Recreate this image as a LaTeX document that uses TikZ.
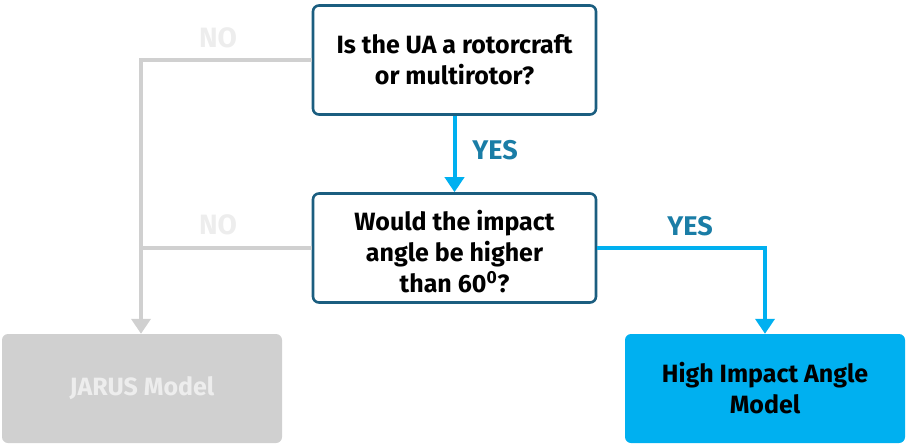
\documentclass[tikz,border=0pt]{standalone}
\usepackage{fontspec}
\setmainfont{Fira Sans}
\usetikzlibrary{arrows.meta}
\definecolor{dblue}{HTML}{1B5E80}
\definecolor{cyanb}{HTML}{00B0F0}
\definecolor{yesc}{HTML}{1A7DA6}
\definecolor{greyb}{HTML}{D0D0D0}
\definecolor{noc}{HTML}{EDEDED}
\begin{document}
\begin{tikzpicture}[x=1pt,y=-1pt,
  qbox/.style={draw=dblue,line width=2.6pt,rounded corners=6pt,fill=white,minimum width=283pt,minimum height=109pt,align=center,font=\fontsize{25}{31}\selectfont\bfseries,inner sep=0pt},
  qtext/.style={align=center,font=\fontsize{25}{31}\selectfont\bfseries,inner sep=0pt},
  mbox/.style={rounded corners=6pt,minimum width=280pt,minimum height=109pt,align=center,font=\fontsize{25}{31}\selectfont\bfseries,inner sep=0pt},
  yesarr/.style={draw=cyanb,line width=4pt,-{Triangle[length=15pt,width=19pt]}},
  noarr/.style={draw=greyb,line width=4.5pt,-{Triangle[length=15pt,width=19pt]}},
  noline/.style={draw=greyb,line width=4.5pt},
  yeslab/.style={text=yesc,font=\fontsize{27}{27}\selectfont\bfseries},
  nolab/.style={text=noc,font=\fontsize{28}{28}\selectfont\bfseries}]
\useasboundingbox (0,0) rectangle (907,447);
\node[qbox] (q1) at (454.5,60) {Is the UA a rotorcraft\\or multirotor?};
\node[qbox] (q2) at (454.5,248) {};
\node[qtext] (q2t) at (454.5,252) {Would the impact\\angle be higher\\than 60\textsuperscript{0}?};
\node[mbox,fill=greyb,text=noc] (jarus) at (142,388.5) {\raisebox{-3pt}{JARUS Model}};
\node[mbox,fill=cyanb,text=black] (hia) at (765,388.5) {High Impact Angle\\Model};
\coordinate (c1) at (141,60);
\coordinate (c2) at (141,248);
\coordinate (c3) at (765,248);
\draw[yesarr] (q1.south) -- (q2.north);
\draw[noline] (q2.west) -- (c2);
\draw[noarr] (q1.west) -- (c1) -- (c1 |- jarus.north);
\draw[yesarr] (q2.east) -- (c3) -- (hia.north);
\node[yeslab] (y1) at (495,150) {YES};
\node[yeslab] (y2) at (690,226) {YES};
\node[nolab] (n1) at (218,38) {NO};
\node[nolab] (n2) at (218,225) {NO};
\end{tikzpicture}
\end{document}
